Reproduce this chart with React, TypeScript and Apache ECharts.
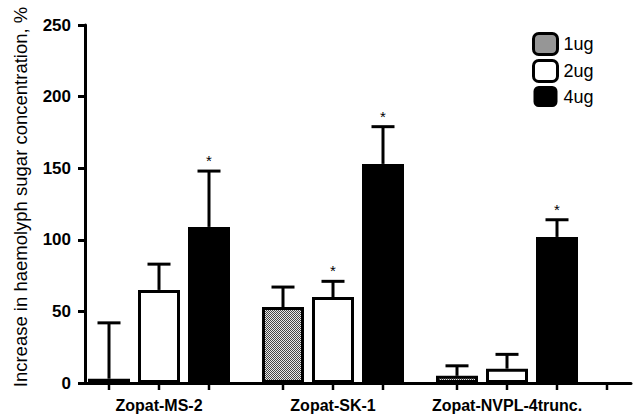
import React, { useEffect, useRef } from "react";
import * as echarts from "echarts";

const categories = ["Zopat-MS-2", "Zopat-SK-1", "Zopat-NVPL-4trunc."];
const doses = ["1ug", "2ug", "4ug"];
const means1ug = [3, 53, 5];
const means2ug = [65, 60, 10];
const means4ug = [109, 153, 102];
const err1ug = [39, 14, 7];
const err2ug = [18, 11, 10];
const err4ug = [39, 26, 12];
const sig1ug = [0, 0, 0];
const sig2ug = [0, 1, 0];
const sig4ug = [1, 1, 1];
const yMin = 0;
const yMax = 250;
const yStep = 50;
const yTitle = "Increase in haemolyph sugar concentration, %";

const GROUP_STEP = 3.48;
const X_OFFSET = 0.48;
const FONT = "'Liberation Sans', Arial, Helvetica, sans-serif";

export default function App() {
  const ref = useRef<HTMLDivElement>(null);
  useEffect(() => {
    if (!ref.current) return;
    const chart = echarts.init(ref.current, null, { renderer: "svg" });

    const cv = document.createElement("canvas");
    cv.width = 2;
    cv.height = 2;
    const ctx = cv.getContext("2d")!;
    ctx.fillStyle = "#e8e8e8";
    ctx.fillRect(0, 0, 2, 2);
    ctx.fillStyle = "#444";
    ctx.fillRect(0, 0, 1, 1);
    ctx.fillRect(1, 1, 1, 1);
    const pattern = { image: cv, repeat: "repeat" };

    const means = [means1ug, means2ug, means4ug];
    const errs = [err1ug, err2ug, err4ug];
    const sigs = [sig1ug, sig2ug, sig4ug];
    const pos = (g: number, i: number) => X_OFFSET + g * GROUP_STEP + i;

    const styles = [
      { color: pattern, borderColor: "#000", borderWidth: 3 },
      { color: "#fff", borderColor: "#000", borderWidth: 3 },
      { color: "#000", borderColor: "#000", borderWidth: 0 },
    ];

    const barSeries = doses.map((d, i) => ({
      type: "bar",
      name: d,
      barWidth: 42,
      barGap: "-100%",
      itemStyle: styles[i],
      data: categories.map((_, g) => [pos(g, i), means[i][g]]),
      z: 2,
    }));

    const errData: number[][] = [];
    doses.forEach((_, i) =>
      categories.forEach((_, g) =>
        errData.push([pos(g, i), means[i][g], errs[i][g], sigs[i][g]])
      )
    );

    const tickVals: number[] = [];
    categories.forEach((_, g) => doses.forEach((_, i) => tickVals.push(pos(g, i))));
    tickVals.push(tickVals[tickVals.length - 1] + 1);
    const labelVals = categories.map((_, g) => pos(g, 1));

    chart.setOption({
      animation: false,
      grid: { left: 85, right: 2, top: 25, bottom: 34, outerBoundsMode: "none", containLabel: false },
      legend: {
        orient: "vertical",
        left: 527,
        top: 27,
        itemWidth: 24,
        itemHeight: 21,
        itemGap: 3,
        data: doses.map((d, i) => ({
          name: d,
          itemStyle: { ...styles[i], borderWidth: i === 2 ? 0 : 3 },
        })),
        textStyle: { fontSize: 18, color: "#000", fontFamily: FONT, padding: [0, 0, 0, 1] },
      },
      xAxis: {
        type: "value",
        min: 0,
        max: 10.92,
        splitLine: { show: false },
        axisLine: { show: true, onZero: false, lineStyle: { color: "#000", width: 3 } },
        axisTick: { show: false },
        axisLabel: {
          customValues: labelVals,
          margin: 14,
          fontSize: 16,
          fontWeight: "bold",
          color: "#000",
          fontFamily: FONT,
          formatter: (v: number) => {
            const g = Math.round((v - X_OFFSET - 1) / GROUP_STEP);
            return categories[g] ?? "";
          },
        },
      },
      yAxis: {
        type: "value",
        position: "left",
        min: yMin,
        max: yMax,
        interval: yStep,
        name: yTitle,
        nameLocation: "middle",
        nameGap: 55,
        nameTextStyle: { fontSize: 18.5, color: "#000", fontFamily: FONT, padding: [0, 0, 0, 14] },
        splitLine: { show: false },
        axisLine: { show: true, onZero: false, lineStyle: { color: "#000", width: 3 } },
        axisTick: { show: true, length: 7, lineStyle: { color: "#000", width: 3 } },
        axisLabel: {
          margin: 14,
          fontSize: 17,
          fontWeight: "bold",
          color: "#000",
          fontFamily: FONT,
        },
      },
      series: [
        ...barSeries,
        {
          type: "custom",
          name: "xticks",
          clip: false,
          silent: true,
          z: 4,
          encode: { x: 0, y: 1 },
          data: tickVals.map((v) => [v, 0]),
          renderItem: (params: any, api: any) => {
            const p = api.coord([api.value(0), api.value(1)]);
            return {
              type: "line",
              shape: { x1: p[0], y1: p[1], x2: p[0], y2: p[1] + 7 },
              style: { stroke: "#000", lineWidth: 2.5 },
            };
          },
        },
        {
          type: "custom",
          name: "errors",
          z: 3,
          clip: false,
          encode: { x: 0, y: 1 },
          data: errData,
          renderItem: (params: any, api: any) => {
            const x = api.value(0);
            const m = api.value(1);
            const e = api.value(2);
            const s = api.value(3);
            const p0 = api.coord([x, m]);
            const p1 = api.coord([x, m + e]);
            const children: any[] = [
              {
                type: "line",
                shape: { x1: p0[0], y1: p0[1], x2: p1[0], y2: p1[1] },
                style: { stroke: "#000", lineWidth: 3 },
              },
              {
                type: "line",
                shape: { x1: p1[0] - 11.5, y1: p1[1], x2: p1[0] + 11.5, y2: p1[1] },
                style: { stroke: "#000", lineWidth: 3 },
              },
            ];
            if (s) {
              children.push({
                type: "text",
                x: p1[0],
                y: p1[1] - 3,
                style: {
                  text: "*",
                  fontSize: 15,
                  fontFamily: FONT,
                  fill: "#000",
                  align: "center",
                  verticalAlign: "bottom",
                },
              });
            }
            return { type: "group", children };
          },
        },
      ],
    });
    return () => chart.dispose();
  }, []);
  return (
    <div
      ref={ref}
      style={{ position: "fixed", left: 0, top: 0, width: 633, height: 417, background: "#fff" }}
    />
  );
}
